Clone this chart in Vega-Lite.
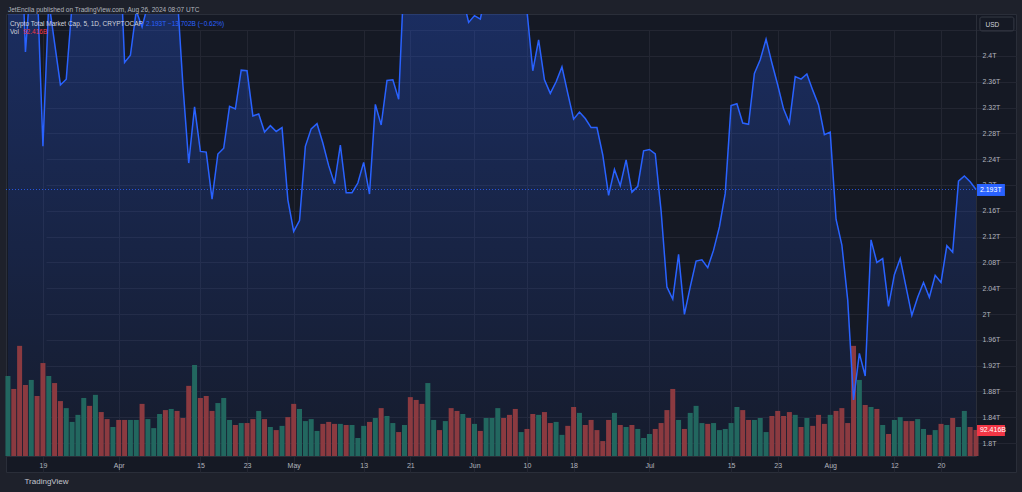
{
  "$schema": "https://vega.github.io/schema/vega-lite/v6.json",
  "width": 1010,
  "height": 458,
  "autosize": "none",
  "padding": {"left": 6, "top": 14, "right": 6, "bottom": 20},
  "title": {
    "text": "JetEncila published on TradingView.com, Aug 26, 2024 08:07 UTC",
    "anchor": "start", "frame": "group", "baseline": "bottom", "offset": 3, "dx": 2, "dy": 8,
    "fontSize": 6.5, "fontWeight": "normal", "color": "#b2b5be", "font": "Liberation Sans"
  },
  "config": {
    "background": "#1e212b",
    "font": "Liberation Sans",
    "view": {"fill": "#151924", "stroke": "#2a2e39"},
    "axis": {"labelColor": "#b2b5be", "labelFontSize": 7, "gridColor": "#232632", "domainColor": "#2a2e39", "ticks": false, "tickSize": 0}
  },
  "data": {
    "values": [
      {"d": "2024-03-13", "c": 2.72, "v": 284, "dir": "up"},
      {"d": "2024-03-14", "c": 2.69, "v": 238, "dir": "down"},
      {"d": "2024-03-15", "c": 2.66, "v": 391, "dir": "down"},
      {"d": "2024-03-16", "c": 2.406, "v": 252, "dir": "down"},
      {"d": "2024-03-17", "c": 2.53, "v": 270, "dir": "up"},
      {"d": "2024-03-18", "c": 2.516, "v": 213, "dir": "down"},
      {"d": "2024-03-19", "c": 2.26, "v": 330, "dir": "down"},
      {"d": "2024-03-20", "c": 2.485, "v": 284, "dir": "up"},
      {"d": "2024-03-21", "c": 2.42, "v": 259, "dir": "down"},
      {"d": "2024-03-22", "c": 2.355, "v": 195, "dir": "down"},
      {"d": "2024-03-23", "c": 2.364, "v": 170, "dir": "up"},
      {"d": "2024-03-24", "c": 2.48, "v": 121, "dir": "up"},
      {"d": "2024-03-25", "c": 2.6, "v": 146, "dir": "up"},
      {"d": "2024-03-26", "c": 2.65, "v": 206, "dir": "up"},
      {"d": "2024-03-27", "c": 2.62, "v": 178, "dir": "down"},
      {"d": "2024-03-28", "c": 2.66, "v": 217, "dir": "up"},
      {"d": "2024-03-29", "c": 2.64, "v": 156, "dir": "down"},
      {"d": "2024-03-30", "c": 2.63, "v": 131, "dir": "down"},
      {"d": "2024-03-31", "c": 2.67, "v": 103, "dir": "up"},
      {"d": "2024-04-01", "c": 2.61, "v": 128, "dir": "down"},
      {"d": "2024-04-02", "c": 2.39, "v": 128, "dir": "down"},
      {"d": "2024-04-03", "c": 2.401, "v": 128, "dir": "up"},
      {"d": "2024-04-04", "c": 2.47, "v": 128, "dir": "up"},
      {"d": "2024-04-05", "c": 2.445, "v": 185, "dir": "down"},
      {"d": "2024-04-06", "c": 2.48, "v": 131, "dir": "up"},
      {"d": "2024-04-07", "c": 2.52, "v": 99, "dir": "up"},
      {"d": "2024-04-08", "c": 2.58, "v": 149, "dir": "up"},
      {"d": "2024-04-09", "c": 2.52, "v": 163, "dir": "down"},
      {"d": "2024-04-10", "c": 2.54, "v": 167, "dir": "up"},
      {"d": "2024-04-11", "c": 2.5, "v": 160, "dir": "down"},
      {"d": "2024-04-12", "c": 2.355, "v": 135, "dir": "down"},
      {"d": "2024-04-13", "c": 2.234, "v": 249, "dir": "down"},
      {"d": "2024-04-14", "c": 2.321, "v": 323, "dir": "up"},
      {"d": "2024-04-15", "c": 2.252, "v": 206, "dir": "down"},
      {"d": "2024-04-16", "c": 2.251, "v": 213, "dir": "down"},
      {"d": "2024-04-17", "c": 2.178, "v": 160, "dir": "down"},
      {"d": "2024-04-18", "c": 2.248, "v": 188, "dir": "up"},
      {"d": "2024-04-19", "c": 2.257, "v": 206, "dir": "up"},
      {"d": "2024-04-20", "c": 2.322, "v": 128, "dir": "up"},
      {"d": "2024-04-21", "c": 2.318, "v": 110, "dir": "down"},
      {"d": "2024-04-22", "c": 2.378, "v": 117, "dir": "up"},
      {"d": "2024-04-23", "c": 2.377, "v": 117, "dir": "down"},
      {"d": "2024-04-24", "c": 2.307, "v": 131, "dir": "down"},
      {"d": "2024-04-25", "c": 2.31, "v": 160, "dir": "up"},
      {"d": "2024-04-26", "c": 2.282, "v": 131, "dir": "down"},
      {"d": "2024-04-27", "c": 2.292, "v": 103, "dir": "up"},
      {"d": "2024-04-28", "c": 2.283, "v": 92, "dir": "down"},
      {"d": "2024-04-29", "c": 2.289, "v": 107, "dir": "up"},
      {"d": "2024-04-30", "c": 2.177, "v": 138, "dir": "down"},
      {"d": "2024-05-01", "c": 2.128, "v": 185, "dir": "down"},
      {"d": "2024-05-02", "c": 2.145, "v": 167, "dir": "up"},
      {"d": "2024-05-03", "c": 2.26, "v": 124, "dir": "up"},
      {"d": "2024-05-04", "c": 2.287, "v": 131, "dir": "up"},
      {"d": "2024-05-05", "c": 2.295, "v": 89, "dir": "up"},
      {"d": "2024-05-06", "c": 2.265, "v": 114, "dir": "down"},
      {"d": "2024-05-07", "c": 2.23, "v": 121, "dir": "down"},
      {"d": "2024-05-08", "c": 2.202, "v": 114, "dir": "down"},
      {"d": "2024-05-09", "c": 2.262, "v": 114, "dir": "up"},
      {"d": "2024-05-10", "c": 2.188, "v": 110, "dir": "down"},
      {"d": "2024-05-11", "c": 2.188, "v": 110, "dir": "up"},
      {"d": "2024-05-12", "c": 2.203, "v": 64, "dir": "up"},
      {"d": "2024-05-13", "c": 2.235, "v": 107, "dir": "up"},
      {"d": "2024-05-14", "c": 2.186, "v": 121, "dir": "down"},
      {"d": "2024-05-15", "c": 2.325, "v": 135, "dir": "up"},
      {"d": "2024-05-16", "c": 2.293, "v": 170, "dir": "down"},
      {"d": "2024-05-17", "c": 2.362, "v": 142, "dir": "up"},
      {"d": "2024-05-18", "c": 2.363, "v": 117, "dir": "up"},
      {"d": "2024-05-19", "c": 2.333, "v": 85, "dir": "down"},
      {"d": "2024-05-20", "c": 2.54, "v": 110, "dir": "up"},
      {"d": "2024-05-21", "c": 2.52, "v": 209, "dir": "down"},
      {"d": "2024-05-22", "c": 2.5, "v": 199, "dir": "down"},
      {"d": "2024-05-23", "c": 2.48, "v": 185, "dir": "down"},
      {"d": "2024-05-24", "c": 2.56, "v": 259, "dir": "up"},
      {"d": "2024-05-25", "c": 2.58, "v": 128, "dir": "up"},
      {"d": "2024-05-26", "c": 2.57, "v": 92, "dir": "down"},
      {"d": "2024-05-27", "c": 2.59, "v": 124, "dir": "up"},
      {"d": "2024-05-28", "c": 2.55, "v": 170, "dir": "down"},
      {"d": "2024-05-29", "c": 2.48, "v": 160, "dir": "down"},
      {"d": "2024-05-30", "c": 2.49, "v": 149, "dir": "up"},
      {"d": "2024-05-31", "c": 2.452, "v": 135, "dir": "down"},
      {"d": "2024-06-01", "c": 2.4625, "v": 114, "dir": "up"},
      {"d": "2024-06-02", "c": 2.457, "v": 89, "dir": "down"},
      {"d": "2024-06-03", "c": 2.5, "v": 135, "dir": "up"},
      {"d": "2024-06-04", "c": 2.55, "v": 135, "dir": "up"},
      {"d": "2024-06-05", "c": 2.58, "v": 170, "dir": "up"},
      {"d": "2024-06-06", "c": 2.57, "v": 135, "dir": "down"},
      {"d": "2024-06-07", "c": 2.52, "v": 146, "dir": "down"},
      {"d": "2024-06-08", "c": 2.51, "v": 167, "dir": "down"},
      {"d": "2024-06-09", "c": 2.52, "v": 85, "dir": "up"},
      {"d": "2024-06-10", "c": 2.47, "v": 96, "dir": "down"},
      {"d": "2024-06-11", "c": 2.377, "v": 149, "dir": "down"},
      {"d": "2024-06-12", "c": 2.425, "v": 146, "dir": "up"},
      {"d": "2024-06-13", "c": 2.363, "v": 156, "dir": "down"},
      {"d": "2024-06-14", "c": 2.342, "v": 117, "dir": "down"},
      {"d": "2024-06-15", "c": 2.36, "v": 121, "dir": "up"},
      {"d": "2024-06-16", "c": 2.383, "v": 75, "dir": "up"},
      {"d": "2024-06-17", "c": 2.342, "v": 107, "dir": "down"},
      {"d": "2024-06-18", "c": 2.302, "v": 174, "dir": "down"},
      {"d": "2024-06-19", "c": 2.313, "v": 153, "dir": "up"},
      {"d": "2024-06-20", "c": 2.303, "v": 110, "dir": "down"},
      {"d": "2024-06-21", "c": 2.289, "v": 128, "dir": "down"},
      {"d": "2024-06-22", "c": 2.289, "v": 92, "dir": "down"},
      {"d": "2024-06-23", "c": 2.2465, "v": 53, "dir": "down"},
      {"d": "2024-06-24", "c": 2.184, "v": 128, "dir": "down"},
      {"d": "2024-06-25", "c": 2.224, "v": 153, "dir": "up"},
      {"d": "2024-06-26", "c": 2.199, "v": 110, "dir": "down"},
      {"d": "2024-06-27", "c": 2.239, "v": 103, "dir": "up"},
      {"d": "2024-06-28", "c": 2.189, "v": 110, "dir": "down"},
      {"d": "2024-06-29", "c": 2.198, "v": 96, "dir": "up"},
      {"d": "2024-06-30", "c": 2.253, "v": 64, "dir": "up"},
      {"d": "2024-07-01", "c": 2.255, "v": 78, "dir": "up"},
      {"d": "2024-07-02", "c": 2.248, "v": 96, "dir": "down"},
      {"d": "2024-07-03", "c": 2.16, "v": 117, "dir": "down"},
      {"d": "2024-07-04", "c": 2.042, "v": 163, "dir": "down"},
      {"d": "2024-07-05", "c": 2.023, "v": 238, "dir": "down"},
      {"d": "2024-07-06", "c": 2.0925, "v": 128, "dir": "up"},
      {"d": "2024-07-07", "c": 1.9995, "v": 96, "dir": "down"},
      {"d": "2024-07-08", "c": 2.042, "v": 153, "dir": "up"},
      {"d": "2024-07-09", "c": 2.082, "v": 178, "dir": "up"},
      {"d": "2024-07-10", "c": 2.084, "v": 117, "dir": "up"},
      {"d": "2024-07-11", "c": 2.072, "v": 114, "dir": "down"},
      {"d": "2024-07-12", "c": 2.099, "v": 117, "dir": "up"},
      {"d": "2024-07-13", "c": 2.135, "v": 92, "dir": "up"},
      {"d": "2024-07-14", "c": 2.187, "v": 96, "dir": "up"},
      {"d": "2024-07-15", "c": 2.323, "v": 117, "dir": "up"},
      {"d": "2024-07-16", "c": 2.326, "v": 174, "dir": "up"},
      {"d": "2024-07-17", "c": 2.296, "v": 163, "dir": "down"},
      {"d": "2024-07-18", "c": 2.294, "v": 128, "dir": "down"},
      {"d": "2024-07-19", "c": 2.373, "v": 128, "dir": "up"},
      {"d": "2024-07-20", "c": 2.394, "v": 135, "dir": "up"},
      {"d": "2024-07-21", "c": 2.426, "v": 85, "dir": "up"},
      {"d": "2024-07-22", "c": 2.389, "v": 142, "dir": "down"},
      {"d": "2024-07-23", "c": 2.355, "v": 160, "dir": "down"},
      {"d": "2024-07-24", "c": 2.318, "v": 142, "dir": "down"},
      {"d": "2024-07-25", "c": 2.296, "v": 156, "dir": "down"},
      {"d": "2024-07-26", "c": 2.368, "v": 146, "dir": "up"},
      {"d": "2024-07-27", "c": 2.364, "v": 103, "dir": "down"},
      {"d": "2024-07-28", "c": 2.372, "v": 135, "dir": "up"},
      {"d": "2024-07-29", "c": 2.347, "v": 107, "dir": "down"},
      {"d": "2024-07-30", "c": 2.324, "v": 146, "dir": "down"},
      {"d": "2024-07-31", "c": 2.278, "v": 114, "dir": "down"},
      {"d": "2024-08-01", "c": 2.282, "v": 146, "dir": "up"},
      {"d": "2024-08-02", "c": 2.147, "v": 160, "dir": "down"},
      {"d": "2024-08-03", "c": 2.107, "v": 170, "dir": "down"},
      {"d": "2024-08-04", "c": 2.022, "v": 117, "dir": "down"},
      {"d": "2024-08-05", "c": 1.867, "v": 391, "dir": "down"},
      {"d": "2024-08-06", "c": 1.939, "v": 270, "dir": "up"},
      {"d": "2024-08-07", "c": 1.904, "v": 181, "dir": "down"},
      {"d": "2024-08-08", "c": 2.115, "v": 174, "dir": "up"},
      {"d": "2024-08-09", "c": 2.08, "v": 167, "dir": "down"},
      {"d": "2024-08-10", "c": 2.086, "v": 110, "dir": "up"},
      {"d": "2024-08-11", "c": 2.012, "v": 78, "dir": "down"},
      {"d": "2024-08-12", "c": 2.061, "v": 128, "dir": "up"},
      {"d": "2024-08-13", "c": 2.086, "v": 138, "dir": "up"},
      {"d": "2024-08-14", "c": 2.042, "v": 124, "dir": "down"},
      {"d": "2024-08-15", "c": 1.998, "v": 124, "dir": "down"},
      {"d": "2024-08-16", "c": 2.026, "v": 131, "dir": "up"},
      {"d": "2024-08-17", "c": 2.049, "v": 96, "dir": "up"},
      {"d": "2024-08-18", "c": 2.026, "v": 75, "dir": "down"},
      {"d": "2024-08-19", "c": 2.06, "v": 92, "dir": "up"},
      {"d": "2024-08-20", "c": 2.049, "v": 114, "dir": "down"},
      {"d": "2024-08-21", "c": 2.106, "v": 110, "dir": "up"},
      {"d": "2024-08-22", "c": 2.096, "v": 135, "dir": "down"},
      {"d": "2024-08-23", "c": 2.206, "v": 103, "dir": "up"},
      {"d": "2024-08-24", "c": 2.214, "v": 160, "dir": "up"},
      {"d": "2024-08-25", "c": 2.205, "v": 103, "dir": "down"},
      {"d": "2024-08-26", "c": 2.193, "v": 92.416, "dir": "down"}
    ]
  },
  "encoding": {
    "x": {
      "field": "d", "type": "temporal",
      "scale": {"type": "utc", "domain": [1710259200000, 1724630400000], "range": [0, 970], "padding": 0},
      "axis": {
        "orient": "bottom", "offset": -16, "grid": true, "labelPadding": 5, "labelFlush": false, "labelOverlap": false,
        "values": [1710806400000, 1711929600000, 1713139200000, 1713830400000, 1714521600000, 1715558400000, 1716249600000, 1717200000000, 1717977600000, 1718668800000, 1719792000000, 1721001600000, 1721692800000, 1722470400000, 1723420800000, 1724112000000],
        "labelExpr": "utcdate(datum.value) == 1 ? utcFormat(datum.value, '%b') : utcFormat(datum.value, '%d')",
        "title": "TradingView", "titleX": 18, "titleY": 25, "titleAlign": "left", "titleBaseline": "middle",
        "titleFontSize": 8, "titleFontWeight": "normal", "titleColor": "#c3c6ce"
      }
    }
  },
  "layer": [
    {
      "encoding": {
        "y": {
          "field": "c", "type": "quantitative",
          "scale": {"domain": [1.78, 2.465], "range": [442, 0], "zero": false, "nice": false},
          "axis": {
            "orient": "right", "offset": -40, "grid": true, "labelPadding": 6, "labelBaseline": "middle",
            "values": [1.8, 1.84, 1.88, 1.92, 1.96, 2, 2.04, 2.08, 2.12, 2.16, 2.2, 2.24, 2.28, 2.32, 2.36, 2.4, 2.44],
            "labelExpr": "datum.value > 2.42 ? '' : format(datum.value, '.3~g') + 'T'",
            "title": "USD", "titleAngle": 0, "titleX": 9, "titleY": 10, "titleAlign": "left", "titleBaseline": "middle",
            "titleFontSize": 6.5, "titleFontWeight": "normal", "titleColor": "#d1d4dc"
          }
        }
      },
      "layer": [
        {
          "mark": {
            "type": "area", "clip": true,
            "fill": {
              "gradient": "linear", "x1": 0, "y1": 0, "x2": 0, "y2": 1,
              "stops": [
                {"offset": 0, "color": "rgba(41,98,255,0.36)"},
                {"offset": 1, "color": "rgba(41,98,255,0.04)"}
              ]
            }
          },
          "encoding": {"y2": {"datum": 1.78}}
        }
      ]
    },
    {
      "encoding": {
        "y": {"field": "v", "type": "quantitative", "axis": null, "scale": {"domain": [0, 1569], "range": [442, 0], "nice": false}}
      },
      "layer": [
        {
          "mark": {"type": "bar", "size": 5},
          "encoding": {
            "color": {"field": "dir", "type": "nominal", "legend": null, "scale": {"domain": ["up", "down"], "range": ["#22675f", "#8b3a40"]}}
          }
        },
        {
          "transform": [{"filter": "datum.v == 92.416"}],
          "mark": {"type": "rect", "color": "#f23645"},
          "encoding": {
            "x": {"datum": 1724644800000, "type": "temporal"},
            "x2": {"datum": 1725058800000},
            "y": {"datum": 110, "type": "quantitative", "axis": null},
            "y2": {"datum": 71}
          }
        },
        {
          "transform": [{"filter": "datum.v == 92.416"}],
          "mark": {"type": "text", "text": "92.416B", "color": "#ffffff", "fontSize": 7, "align": "left", "baseline": "middle"},
          "encoding": {
            "x": {"datum": 1724688000000, "type": "temporal"},
            "y": {"datum": 92.416, "type": "quantitative", "axis": null}
          }
        }
      ]
    },
    {
      "encoding": {
        "y": {"field": "c", "type": "quantitative", "axis": null, "scale": {"domain": [1.78, 2.465], "range": [442, 0], "zero": false, "nice": false}}
      },
      "layer": [
        {
          "mark": {"type": "line", "clip": true, "color": "#2962ff", "strokeWidth": 1.5}
        },
        {
          "transform": [{"filter": "datum.v == 92.416"}],
          "mark": {"type": "rule", "color": "#2962ff", "strokeDash": [1, 2], "strokeWidth": 1, "opacity": 0.8},
          "encoding": {
            "x": {"datum": 1710259200000, "type": "temporal"},
            "x2": {"datum": 1724630400000},
            "y": {"datum": 2.193, "type": "quantitative", "axis": null}
          }
        },
        {
          "transform": [{"filter": "datum.v == 92.416"}],
          "mark": {"type": "rect", "color": "#2962ff"},
          "encoding": {
            "x": {"datum": 1724644800000, "type": "temporal"},
            "x2": {"datum": 1725058800000},
            "y": {"datum": 2.2015, "type": "quantitative", "axis": null},
            "y2": {"datum": 2.183}
          }
        },
        {
          "transform": [{"filter": "datum.v == 92.416"}],
          "mark": {"type": "text", "text": "2.193T", "color": "#ffffff", "fontSize": 7, "align": "left", "baseline": "middle"},
          "encoding": {
            "x": {"datum": 1724688000000, "type": "temporal"},
            "y": {"datum": 2.193, "type": "quantitative", "axis": null}
          }
        },
        {
          "transform": [{"filter": "datum.v == 92.416"}],
          "mark": {"type": "rect", "filled": false, "stroke": "#363a45", "strokeWidth": 1, "cornerRadius": 2},
          "encoding": {
            "x": {"datum": 1724688900000, "type": "temporal"},
            "x2": {"datum": 1725192000000},
            "y": {"datum": 2.4603, "type": "quantitative", "axis": null},
            "y2": {"datum": 2.4387}
          }
        },
        {
          "transform": [{"filter": "datum.v == 92.416"}],
          "mark": {"type": "text", "text": "Crypto Total Market Cap, 5, 1D, CRYPTOCAP", "color": "#d1d4dc", "fontSize": 6.5, "align": "left", "baseline": "middle"},
          "encoding": {
            "x": {"datum": 1710316800000, "type": "temporal"},
            "y": {"datum": 2.4495, "type": "quantitative", "axis": null}
          }
        },
        {
          "transform": [{"filter": "datum.v == 92.416"}],
          "mark": {"type": "text", "text": "2.193T  −13.702B (−0.62%)", "color": "#2962ff", "fontSize": 6.5, "align": "left", "baseline": "middle"},
          "encoding": {
            "x": {"datum": 1712332800000, "type": "temporal"},
            "y": {"datum": 2.4495, "type": "quantitative", "axis": null}
          }
        },
        {
          "transform": [{"filter": "datum.v == 92.416"}],
          "mark": {"type": "text", "text": "Vol", "color": "#d1d4dc", "fontSize": 6.5, "align": "left", "baseline": "middle"},
          "encoding": {
            "x": {"datum": 1710316800000, "type": "temporal"},
            "y": {"datum": 2.4371, "type": "quantitative", "axis": null}
          }
        },
        {
          "transform": [{"filter": "datum.v == 92.416"}],
          "mark": {"type": "text", "text": "92.416B", "color": "#f23645", "fontSize": 6.5, "align": "left", "baseline": "middle"},
          "encoding": {
            "x": {"datum": 1710511200000, "type": "temporal"},
            "y": {"datum": 2.4371, "type": "quantitative", "axis": null}
          }
        }
      ]
    }
  ],
  "resolve": {"scale": {"y": "independent"}}
}
